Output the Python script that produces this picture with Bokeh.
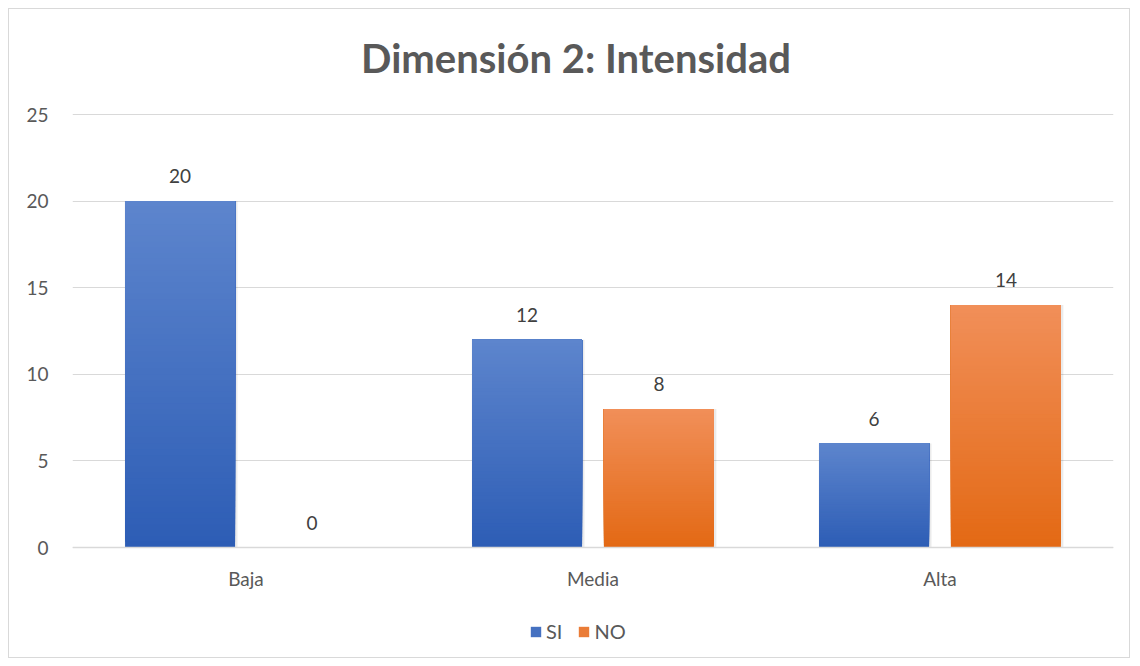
from bokeh.plotting import figure
from bokeh.models import ColumnDataSource, FactorRange, Legend, LegendItem, Span
from bokeh.transform import dodge
from bokeh.embed import file_html
from bokeh.resources import INLINE
from bokeh.core.properties import value

categories = ["Baja", "Media", "Alta"]
series_names = ["SI", "NO"]
si_values = [20, 12, 6]
no_values = [0, 8, 14]
y_ticks = [0, 5, 10, 15, 20, 25]
title_text = "Dimensión 2: Intensidad"

FONT = "Lato"
N = 60
BAR_W = 0.317
OFF = 0.19
Y_MAX = 25
PX = 433 / Y_MAX                 # pixels per unit on the value axis
Y_MIN = -112 / PX                # frame extends down to the legend area
Y_TOP = Y_MAX + 105 / PX         # and up to the title area
TITLE_Y = Y_MAX + 57 / PX

def hex2rgb(h):
    h = h.lstrip("#")
    return tuple(int(h[i:i + 2], 16) for i in (0, 2, 4))

def lerp(c1, c2, t):
    a, b = hex2rgb(c1), hex2rgb(c2)
    return "#%02x%02x%02x" % tuple(round(a[i] + (b[i] - a[i]) * t) for i in range(3))

def slices(vals, top_c, bot_c):
    xs, bots, tops, cols = [], [], [], []
    for cat, v in zip(categories, vals):
        if v <= 0:
            continue
        for k in range(N):
            xs.append(cat)
            bots.append(v * k / N)
            tops.append(v)
            cols.append(lerp(bot_c, top_c, (k + 0.5) / N))
    return ColumnDataSource(dict(x=xs, bottom=bots, top=tops, color=cols))

p = figure(x_range=FactorRange(*categories, range_padding=0), y_range=(Y_MIN, Y_TOP),
           width=1122, height=650, output_backend="svg", toolbar_location=None,
           min_border_left=63, min_border_right=18, min_border_top=0, min_border_bottom=0,
           margin=(8, 8, 8, 8))
p.title_location = None
p.styles = {"border": "1px solid #D9D9D9"}
p.outline_line_color = None
p.background_fill_color = "white"
p.border_fill_color = "white"

blue_top, blue_bot = "#5D85CD", "#2D5DB5"
orng_top, orng_bot = "#F18F59", "#E36914"

si_src = slices(si_values, blue_top, blue_bot)
no_src = slices(no_values, orng_top, orng_bot)

p.ygrid.ticker = y_ticks
p.xgrid.grid_line_color = None
p.ygrid.grid_line_color = "#D9D9D9"
p.ygrid.grid_line_width = 1.2
p.add_layout(Span(location=0, dimension="width", line_color="#D9D9D9", line_width=1.6))

# title
p.text(x=["Media"], y=[TITLE_Y], text=[title_text], x_offset=-17,
       text_align="center", text_baseline="middle", text_font=value(FONT),
       text_font_size="40px", text_font_style="bold", text_color="#595959")

# soft shadow
shadow = ColumnDataSource(dict(x=categories, si=si_values, no=no_values))
p.vbar(x=dodge("x", -OFF + 0.003, range=p.x_range), top="si", width=BAR_W + 0.008, source=shadow,
       fill_color="#000000", fill_alpha=0.08, line_color=None)
p.vbar(x=dodge("x", OFF + 0.003, range=p.x_range), top="no", width=BAR_W + 0.008, source=shadow,
       fill_color="#000000", fill_alpha=0.08, line_color=None)

r_si = p.vbar(x=dodge("x", -OFF, range=p.x_range), bottom="bottom", top="top", width=BAR_W,
              source=si_src, fill_color="color", line_color=None)
r_no = p.vbar(x=dodge("x", OFF, range=p.x_range), bottom="bottom", top="top", width=BAR_W,
              source=no_src, fill_color="color", line_color=None)

lbl = ColumnDataSource(dict(x=categories, si=si_values, no=no_values, zero=[0] * len(categories),
                            si_t=[str(v) for v in si_values], no_t=[str(v) for v in no_values]))
for col, off in (("si", -OFF), ("no", OFF)):
    p.text(x=dodge("x", off, range=p.x_range), y=col, text=col + "_t", source=lbl,
           text_align="center", text_baseline="bottom", y_offset=-18,
           text_font=value(FONT), text_font_size="19px", text_color="#404040")

# category labels under the baseline
p.text(x="x", y="zero", text="x", source=lbl, text_align="center", text_baseline="middle",
       y_offset=31, text_font=value(FONT), text_font_size="19px", text_color="#595959")

legend = Legend(items=[LegendItem(label=series_names[0], renderers=[r_si], index=N // 2),
                       LegendItem(label=series_names[1], renderers=[r_no], index=N // 2)],
                orientation="horizontal", location=(457, 16))
legend.border_line_color = None
legend.background_fill_alpha = 0
legend.glyph_width = 13
legend.glyph_height = 13
legend.label_width = 0
legend.label_text_font = FONT
legend.label_text_font_size = "20px"
legend.label_text_color = "#595959"
legend.label_standoff = 4
legend.spacing = 15
legend.padding = 0
legend.margin = 0
p.add_layout(legend, "center")

p.xaxis.visible = False
p.yaxis.ticker = y_ticks
p.yaxis.axis_line_color = None
p.yaxis.major_tick_line_color = None
p.yaxis.minor_tick_line_color = None
p.yaxis.major_label_text_font = FONT
p.yaxis.major_label_text_font_size = "19px"
p.yaxis.major_label_text_color = "#595959"
p.yaxis.major_label_standoff = 18

open("out.html", "w").write(file_html(p, INLINE))
